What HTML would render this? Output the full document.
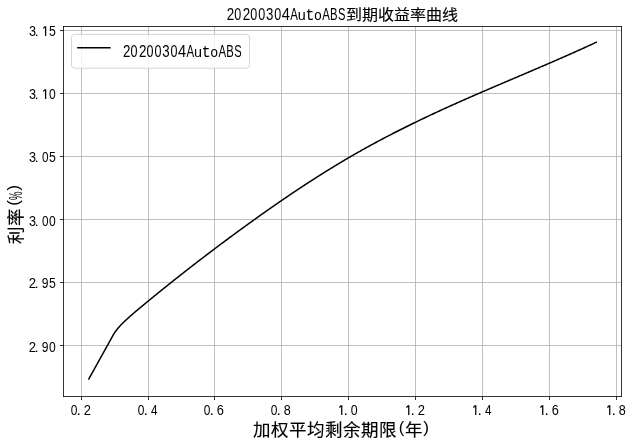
<!DOCTYPE html>
<html lang="zh-CN"><head><meta charset="utf-8"><title>20200304AutoABS到期收益率曲线</title>
<style>html,body{margin:0;padding:0;background:#fff;overflow:hidden}svg{display:block;filter:grayscale(1)}</style>
</head><body><svg width="633" height="444" viewBox="0 0 633 444"><rect x="0" y="0" width="633" height="444" fill="#fff"/><path d="M81.5 26.5V396.5M148.5 26.5V396.5M214.5 26.5V396.5M281.5 26.5V396.5M348.5 26.5V396.5M415.5 26.5V396.5M482.5 26.5V396.5M549.5 26.5V396.5M616.5 26.5V396.5M63.5 30.5H621.5M63.5 93.5H621.5M63.5 156.5H621.5M63.5 219.5H621.5M63.5 282.5H621.5M63.5 345.5H621.5" stroke="#b0b0b0" stroke-width="0.8" fill="none"/><path d="M88.85 378.90 L89.35 378.00 L89.85 377.10 L90.35 376.20 L90.85 375.30 L91.35 374.40 L91.85 373.50 L92.35 372.60 L92.85 371.70 L93.35 370.80 L93.85 369.90 L94.35 369.00 L94.85 368.10 L95.35 367.20 L95.85 366.30 L96.35 365.40 L96.85 364.50 L97.35 363.60 L97.85 362.70 L98.35 361.80 L98.85 360.90 L99.35 360.00 L99.85 359.10 L100.35 358.20 L100.85 357.30 L101.35 356.40 L101.85 355.50 L102.35 354.60 L102.85 353.70 L103.35 352.80 L103.85 351.90 L104.35 351.00 L104.85 350.10 L105.35 349.20 L105.85 348.30 L106.35 347.40 L106.85 346.50 L107.35 345.60 L107.85 344.70 L108.35 343.80 L108.85 342.90 L109.35 342.00 L109.85 341.10 L110.35 340.20 L110.85 339.30 L111.35 338.40 L111.85 337.48 L112.35 336.53 L112.85 335.58 L113.35 334.67 L113.85 333.84 L114.35 333.08 L114.85 332.36 L115.35 331.65 L115.85 330.97 L116.35 330.31 L116.85 329.66 L117.35 329.04 L117.85 328.43 L118.35 327.84 L118.85 327.26 L119.35 326.70 L119.85 326.15 L120.35 325.61 L120.85 325.08 L121.35 324.56 L121.85 324.05 L122.35 323.55 L122.85 323.05 L123.35 322.56 L123.85 322.07 L124.35 321.59 L124.85 321.11 L125.35 320.63 L125.85 320.16 L126.35 319.69 L126.85 319.23 L127.35 318.77 L127.85 318.31 L128.35 317.85 L128.85 317.40 L129.35 316.95 L129.85 316.51 L130.35 316.06 L130.85 315.62 L131.35 315.19 L131.85 314.75 L132.35 314.32 L132.85 313.88 L133.35 313.45 L133.85 313.03 L134.35 312.60 L134.85 312.17 L135.35 311.75 L135.85 311.33 L136.35 310.91 L136.85 310.49 L137.35 310.07 L137.85 309.65 L138.35 309.23 L138.85 308.82 L139.35 308.40 L139.85 307.98 L140.35 307.57 L140.85 307.15 L141.35 306.74 L141.85 306.32 L142.35 305.91 L142.85 305.49 L143.35 305.08 L143.85 304.67 L144.35 304.25 L144.85 303.84 L145.35 303.43 L145.85 303.01 L146.35 302.60 L146.85 302.19 L147.35 301.78 L147.85 301.37 L148.35 300.96 L148.85 300.54 L149.35 300.13 L149.85 299.72 L150.35 299.31 L150.85 298.90 L151.35 298.49 L151.85 298.08 L152.35 297.68 L152.85 297.27 L153.35 296.86 L153.85 296.45 L154.35 296.04 L154.85 295.64 L155.35 295.23 L155.85 294.82 L156.35 294.41 L156.85 294.01 L157.35 293.60 L157.85 293.20 L158.35 292.79 L158.85 292.38 L159.35 291.98 L159.85 291.57 L160.35 291.17 L160.85 290.77 L161.35 290.36 L161.85 289.96 L162.35 289.55 L162.85 289.15 L163.35 288.75 L163.85 288.35 L164.35 287.94 L164.85 287.54 L165.35 287.14 L165.85 286.74 L166.35 286.34 L166.85 285.94 L167.35 285.54 L167.85 285.13 L168.35 284.73 L168.85 284.33 L169.35 283.94 L169.85 283.54 L170.35 283.14 L170.85 282.74 L171.35 282.34 L171.85 281.94 L172.35 281.54 L172.85 281.14 L173.35 280.75 L173.85 280.35 L174.35 279.95 L174.85 279.56 L175.35 279.16 L175.85 278.76 L176.35 278.37 L176.85 277.97 L177.35 277.58 L177.85 277.18 L178.35 276.79 L178.85 276.39 L179.35 276.00 L179.85 275.60 L180.35 275.21 L180.85 274.82 L181.35 274.42 L181.85 274.03 L182.35 273.64 L182.85 273.24 L183.35 272.85 L183.85 272.46 L184.35 272.07 L184.85 271.68 L185.35 271.29 L185.85 270.90 L186.35 270.50 L186.85 270.11 L187.35 269.72 L187.85 269.33 L188.35 268.94 L188.85 268.55 L189.35 268.17 L189.85 267.78 L190.35 267.39 L190.85 267.00 L191.35 266.61 L191.85 266.22 L192.35 265.84 L192.85 265.45 L193.35 265.06 L193.85 264.67 L194.35 264.29 L194.85 263.90 L195.35 263.52 L195.85 263.13 L196.35 262.74 L196.85 262.36 L197.35 261.97 L197.85 261.59 L198.35 261.20 L198.85 260.82 L199.35 260.43 L199.85 260.05 L200.35 259.67 L200.85 259.28 L201.35 258.90 L201.85 258.52 L202.35 258.14 L202.85 257.75 L203.35 257.37 L203.85 256.99 L204.35 256.61 L204.85 256.23 L205.35 255.84 L205.85 255.46 L206.35 255.08 L206.85 254.70 L207.35 254.32 L207.85 253.94 L208.35 253.56 L208.85 253.18 L209.35 252.80 L209.85 252.42 L210.35 252.05 L210.85 251.67 L211.35 251.29 L211.85 250.91 L212.35 250.53 L212.85 250.16 L213.35 249.78 L213.85 249.40 L214.35 249.02 L214.85 248.65 L215.35 248.27 L215.85 247.90 L216.35 247.52 L216.85 247.14 L217.35 246.77 L217.85 246.39 L218.35 246.02 L218.85 245.64 L219.35 245.27 L219.85 244.90 L220.35 244.52 L220.85 244.15 L221.35 243.77 L221.85 243.40 L222.35 243.03 L222.85 242.65 L223.35 242.28 L223.85 241.91 L224.35 241.54 L224.85 241.17 L225.35 240.79 L225.85 240.42 L226.35 240.05 L226.85 239.68 L227.35 239.31 L227.85 238.94 L228.35 238.57 L228.85 238.20 L229.35 237.83 L229.85 237.46 L230.35 237.09 L230.85 236.72 L231.35 236.35 L231.85 235.98 L232.35 235.61 L232.85 235.25 L233.35 234.88 L233.85 234.51 L234.35 234.14 L234.85 233.78 L235.35 233.41 L235.85 233.04 L236.35 232.68 L236.85 232.31 L237.35 231.94 L237.85 231.58 L238.35 231.21 L238.85 230.85 L239.35 230.48 L239.85 230.11 L240.35 229.75 L240.85 229.39 L241.35 229.02 L241.85 228.66 L242.35 228.29 L242.85 227.93 L243.35 227.57 L243.85 227.20 L244.35 226.84 L244.85 226.48 L245.35 226.11 L245.85 225.75 L246.35 225.39 L246.85 225.03 L247.35 224.67 L247.85 224.30 L248.35 223.94 L248.85 223.58 L249.35 223.22 L249.85 222.86 L250.35 222.50 L250.85 222.14 L251.35 221.78 L251.85 221.42 L252.35 221.06 L252.85 220.70 L253.35 220.34 L253.85 219.99 L254.35 219.63 L254.85 219.27 L255.35 218.91 L255.85 218.55 L256.35 218.20 L256.85 217.84 L257.35 217.48 L257.85 217.13 L258.35 216.77 L258.85 216.41 L259.35 216.06 L259.85 215.70 L260.35 215.35 L260.85 214.99 L261.35 214.64 L261.85 214.28 L262.35 213.93 L262.85 213.58 L263.35 213.22 L263.85 212.87 L264.35 212.52 L264.85 212.16 L265.35 211.81 L265.85 211.46 L266.35 211.11 L266.85 210.76 L267.35 210.40 L267.85 210.05 L268.35 209.70 L268.85 209.35 L269.35 209.00 L269.85 208.65 L270.35 208.30 L270.85 207.95 L271.35 207.60 L271.85 207.25 L272.35 206.91 L272.85 206.56 L273.35 206.21 L273.85 205.86 L274.35 205.52 L274.85 205.17 L275.35 204.82 L275.85 204.47 L276.35 204.13 L276.85 203.78 L277.35 203.44 L277.85 203.09 L278.35 202.75 L278.85 202.40 L279.35 202.06 L279.85 201.71 L280.35 201.37 L280.85 201.03 L281.35 200.68 L281.85 200.34 L282.35 200.00 L282.85 199.66 L283.35 199.31 L283.85 198.97 L284.35 198.63 L284.85 198.29 L285.35 197.95 L285.85 197.61 L286.35 197.27 L286.85 196.93 L287.35 196.59 L287.85 196.25 L288.35 195.91 L288.85 195.57 L289.35 195.24 L289.85 194.90 L290.35 194.56 L290.85 194.22 L291.35 193.89 L291.85 193.55 L292.35 193.21 L292.85 192.88 L293.35 192.54 L293.85 192.21 L294.35 191.87 L294.85 191.54 L295.35 191.20 L295.85 190.87 L296.35 190.54 L296.85 190.20 L297.35 189.87 L297.85 189.54 L298.35 189.21 L298.85 188.87 L299.35 188.54 L299.85 188.21 L300.35 187.88 L300.85 187.55 L301.35 187.22 L301.85 186.89 L302.35 186.56 L302.85 186.23 L303.35 185.90 L303.85 185.58 L304.35 185.25 L304.85 184.92 L305.35 184.59 L305.85 184.27 L306.35 183.94 L306.85 183.61 L307.35 183.29 L307.85 182.96 L308.35 182.64 L308.85 182.31 L309.35 181.99 L309.85 181.67 L310.35 181.34 L310.85 181.02 L311.35 180.70 L311.85 180.37 L312.35 180.05 L312.85 179.73 L313.35 179.41 L313.85 179.09 L314.35 178.77 L314.85 178.45 L315.35 178.13 L315.85 177.81 L316.35 177.49 L316.85 177.17 L317.35 176.85 L317.85 176.53 L318.35 176.22 L318.85 175.90 L319.35 175.58 L319.85 175.27 L320.35 174.95 L320.85 174.64 L321.35 174.32 L321.85 174.01 L322.35 173.69 L322.85 173.38 L323.35 173.06 L323.85 172.75 L324.35 172.44 L324.85 172.13 L325.35 171.81 L325.85 171.50 L326.35 171.19 L326.85 170.88 L327.35 170.57 L327.85 170.26 L328.35 169.95 L328.85 169.64 L329.35 169.33 L329.85 169.02 L330.35 168.72 L330.85 168.41 L331.35 168.10 L331.85 167.79 L332.35 167.49 L332.85 167.18 L333.35 166.88 L333.85 166.57 L334.35 166.27 L334.85 165.96 L335.35 165.66 L335.85 165.36 L336.35 165.05 L336.85 164.75 L337.35 164.45 L337.85 164.15 L338.35 163.85 L338.85 163.54 L339.35 163.24 L339.85 162.94 L340.35 162.64 L340.85 162.35 L341.35 162.05 L341.85 161.75 L342.35 161.45 L342.85 161.15 L343.35 160.86 L343.85 160.56 L344.35 160.26 L344.85 159.97 L345.35 159.67 L345.85 159.38 L346.35 159.08 L346.85 158.79 L347.35 158.50 L347.85 158.20 L348.35 157.91 L348.85 157.62 L349.35 157.33 L349.85 157.04 L350.35 156.75 L350.85 156.46 L351.35 156.17 L351.85 155.88 L352.35 155.59 L352.85 155.30 L353.35 155.01 L353.85 154.72 L354.35 154.44 L354.85 154.15 L355.35 153.86 L355.85 153.58 L356.35 153.29 L356.85 153.01 L357.35 152.72 L357.85 152.44 L358.35 152.16 L358.85 151.87 L359.35 151.59 L359.85 151.31 L360.35 151.03 L360.85 150.74 L361.35 150.46 L361.85 150.18 L362.35 149.90 L362.85 149.62 L363.35 149.34 L363.85 149.06 L364.35 148.78 L364.85 148.51 L365.35 148.23 L365.85 147.95 L366.35 147.67 L366.85 147.40 L367.35 147.12 L367.85 146.85 L368.35 146.57 L368.85 146.30 L369.35 146.02 L369.85 145.75 L370.35 145.47 L370.85 145.20 L371.35 144.93 L371.85 144.65 L372.35 144.38 L372.85 144.11 L373.35 143.84 L373.85 143.57 L374.35 143.30 L374.85 143.03 L375.35 142.76 L375.85 142.49 L376.35 142.22 L376.85 141.95 L377.35 141.68 L377.85 141.41 L378.35 141.15 L378.85 140.88 L379.35 140.61 L379.85 140.34 L380.35 140.08 L380.85 139.81 L381.35 139.55 L381.85 139.28 L382.35 139.02 L382.85 138.75 L383.35 138.49 L383.85 138.23 L384.35 137.96 L384.85 137.70 L385.35 137.44 L385.85 137.18 L386.35 136.91 L386.85 136.65 L387.35 136.39 L387.85 136.13 L388.35 135.87 L388.85 135.61 L389.35 135.35 L389.85 135.09 L390.35 134.83 L390.85 134.58 L391.35 134.32 L391.85 134.06 L392.35 133.80 L392.85 133.54 L393.35 133.29 L393.85 133.03 L394.35 132.78 L394.85 132.52 L395.35 132.26 L395.85 132.01 L396.35 131.75 L396.85 131.50 L397.35 131.25 L397.85 130.99 L398.35 130.74 L398.85 130.49 L399.35 130.23 L399.85 129.98 L400.35 129.73 L400.85 129.48 L401.35 129.23 L401.85 128.97 L402.35 128.72 L402.85 128.47 L403.35 128.22 L403.85 127.97 L404.35 127.72 L404.85 127.47 L405.35 127.23 L405.85 126.98 L406.35 126.73 L406.85 126.48 L407.35 126.23 L407.85 125.99 L408.35 125.74 L408.85 125.49 L409.35 125.25 L409.85 125.00 L410.35 124.75 L410.85 124.51 L411.35 124.26 L411.85 124.02 L412.35 123.77 L412.85 123.53 L413.35 123.28 L413.85 123.04 L414.35 122.80 L414.85 122.55 L415.35 122.31 L415.85 122.07 L416.35 121.83 L416.85 121.58 L417.35 121.34 L417.85 121.10 L418.35 120.86 L418.85 120.62 L419.35 120.38 L419.85 120.14 L420.35 119.90 L420.85 119.66 L421.35 119.42 L421.85 119.18 L422.35 118.94 L422.85 118.70 L423.35 118.46 L423.85 118.23 L424.35 117.99 L424.85 117.75 L425.35 117.51 L425.85 117.28 L426.35 117.04 L426.85 116.80 L427.35 116.57 L427.85 116.33 L428.35 116.09 L428.85 115.86 L429.35 115.62 L429.85 115.39 L430.35 115.15 L430.85 114.92 L431.35 114.69 L431.85 114.45 L432.35 114.22 L432.85 113.98 L433.35 113.75 L433.85 113.52 L434.35 113.29 L434.85 113.05 L435.35 112.82 L435.85 112.59 L436.35 112.36 L436.85 112.13 L437.35 111.89 L437.85 111.66 L438.35 111.43 L438.85 111.20 L439.35 110.97 L439.85 110.74 L440.35 110.51 L440.85 110.28 L441.35 110.05 L441.85 109.82 L442.35 109.59 L442.85 109.37 L443.35 109.14 L443.85 108.91 L444.35 108.68 L444.85 108.45 L445.35 108.22 L445.85 108.00 L446.35 107.77 L446.85 107.54 L447.35 107.32 L447.85 107.09 L448.35 106.86 L448.85 106.64 L449.35 106.41 L449.85 106.18 L450.35 105.96 L450.85 105.73 L451.35 105.51 L451.85 105.28 L452.35 105.06 L452.85 104.83 L453.35 104.61 L453.85 104.39 L454.35 104.16 L454.85 103.94 L455.35 103.71 L455.85 103.49 L456.35 103.27 L456.85 103.04 L457.35 102.82 L457.85 102.60 L458.35 102.38 L458.85 102.15 L459.35 101.93 L459.85 101.71 L460.35 101.49 L460.85 101.26 L461.35 101.04 L461.85 100.82 L462.35 100.60 L462.85 100.38 L463.35 100.16 L463.85 99.94 L464.35 99.72 L464.85 99.50 L465.35 99.28 L465.85 99.06 L466.35 98.84 L466.85 98.62 L467.35 98.40 L467.85 98.18 L468.35 97.96 L468.85 97.74 L469.35 97.52 L469.85 97.30 L470.35 97.08 L470.85 96.86 L471.35 96.64 L471.85 96.43 L472.35 96.21 L472.85 95.99 L473.35 95.77 L473.85 95.55 L474.35 95.33 L474.85 95.12 L475.35 94.90 L475.85 94.68 L476.35 94.46 L476.85 94.25 L477.35 94.03 L477.85 93.81 L478.35 93.60 L478.85 93.38 L479.35 93.16 L479.85 92.95 L480.35 92.73 L480.85 92.51 L481.35 92.30 L481.85 92.08 L482.35 91.87 L482.85 91.65 L483.35 91.43 L483.85 91.22 L484.35 91.00 L484.85 90.79 L485.35 90.57 L485.85 90.36 L486.35 90.14 L486.85 89.93 L487.35 89.71 L487.85 89.50 L488.35 89.28 L488.85 89.07 L489.35 88.85 L489.85 88.64 L490.35 88.42 L490.85 88.21 L491.35 87.99 L491.85 87.78 L492.35 87.56 L492.85 87.35 L493.35 87.14 L493.85 86.92 L494.35 86.71 L494.85 86.49 L495.35 86.28 L495.85 86.07 L496.35 85.85 L496.85 85.64 L497.35 85.42 L497.85 85.21 L498.35 85.00 L498.85 84.78 L499.35 84.57 L499.85 84.36 L500.35 84.14 L500.85 83.93 L501.35 83.72 L501.85 83.50 L502.35 83.29 L502.85 83.08 L503.35 82.86 L503.85 82.65 L504.35 82.44 L504.85 82.23 L505.35 82.01 L505.85 81.80 L506.35 81.59 L506.85 81.37 L507.35 81.16 L507.85 80.95 L508.35 80.74 L508.85 80.52 L509.35 80.31 L509.85 80.10 L510.35 79.88 L510.85 79.67 L511.35 79.46 L511.85 79.25 L512.35 79.03 L512.85 78.82 L513.35 78.61 L513.85 78.40 L514.35 78.18 L514.85 77.97 L515.35 77.76 L515.85 77.55 L516.35 77.33 L516.85 77.12 L517.35 76.91 L517.85 76.69 L518.35 76.48 L518.85 76.27 L519.35 76.06 L519.85 75.84 L520.35 75.63 L520.85 75.42 L521.35 75.21 L521.85 74.99 L522.35 74.78 L522.85 74.57 L523.35 74.35 L523.85 74.14 L524.35 73.93 L524.85 73.72 L525.35 73.50 L525.85 73.29 L526.35 73.08 L526.85 72.86 L527.35 72.65 L527.85 72.44 L528.35 72.22 L528.85 72.01 L529.35 71.80 L529.85 71.58 L530.35 71.37 L530.85 71.16 L531.35 70.94 L531.85 70.73 L532.35 70.52 L532.85 70.30 L533.35 70.09 L533.85 69.88 L534.35 69.66 L534.85 69.45 L535.35 69.24 L535.85 69.02 L536.35 68.81 L536.85 68.59 L537.35 68.38 L537.85 68.17 L538.35 67.95 L538.85 67.74 L539.35 67.52 L539.85 67.31 L540.35 67.09 L540.85 66.88 L541.35 66.66 L541.85 66.45 L542.35 66.23 L542.85 66.02 L543.35 65.80 L543.85 65.59 L544.35 65.37 L544.85 65.16 L545.35 64.94 L545.85 64.73 L546.35 64.51 L546.85 64.30 L547.35 64.08 L547.85 63.87 L548.35 63.65 L548.85 63.43 L549.35 63.22 L549.85 63.00 L550.35 62.78 L550.85 62.57 L551.35 62.35 L551.85 62.13 L552.35 61.92 L552.85 61.70 L553.35 61.48 L553.85 61.27 L554.35 61.05 L554.85 60.83 L555.35 60.61 L555.85 60.40 L556.35 60.18 L556.85 59.96 L557.35 59.74 L557.85 59.53 L558.35 59.31 L558.85 59.09 L559.35 58.87 L559.85 58.65 L560.35 58.43 L560.85 58.21 L561.35 57.99 L561.85 57.78 L562.35 57.56 L562.85 57.34 L563.35 57.12 L563.85 56.90 L564.35 56.68 L564.85 56.46 L565.35 56.24 L565.85 56.02 L566.35 55.80 L566.85 55.58 L567.35 55.35 L567.85 55.13 L568.35 54.91 L568.85 54.69 L569.35 54.47 L569.85 54.25 L570.35 54.03 L570.85 53.80 L571.35 53.58 L571.85 53.36 L572.35 53.14 L572.85 52.91 L573.35 52.69 L573.85 52.47 L574.35 52.25 L574.85 52.02 L575.35 51.80 L575.85 51.57 L576.35 51.35 L576.85 51.13 L577.35 50.90 L577.85 50.68 L578.35 50.45 L578.85 50.23 L579.35 50.00 L579.85 49.78 L580.35 49.55 L580.85 49.33 L581.35 49.10 L581.85 48.87 L582.35 48.65 L582.85 48.42 L583.35 48.20 L583.85 47.97 L584.35 47.74 L584.85 47.51 L585.35 47.29 L585.85 47.06 L586.35 46.83 L586.85 46.60 L587.35 46.37 L587.85 46.15 L588.35 45.92 L588.85 45.69 L589.35 45.46 L589.85 45.23 L590.35 45.00 L590.85 44.77 L591.35 44.54 L591.85 44.31 L592.35 44.08 L592.85 43.85 L593.35 43.62 L593.85 43.38 L594.35 43.15 L594.85 42.92 L595.35 42.69 L595.85 42.46 L596.20 42.29" stroke="#000" stroke-width="1.5" fill="none" stroke-linejoin="round" stroke-linecap="square"/><path d="M63.5 26.5V396.5M621.5 26.5V396.5M63.5 26.5H621.5M63.5 396.5H621.5" stroke="#000" stroke-width="0.8" fill="none" stroke-linecap="square"/><path d="M60.0 30.5H63.5M60.0 93.5H63.5M60.0 156.5H63.5M60.0 219.5H63.5M60.0 282.5H63.5M60.0 345.5H63.5M81.5 396.5V400.0M148.5 396.5V400.0M214.5 396.5V400.0M281.5 396.5V400.0M348.5 396.5V400.0M415.5 396.5V400.0M482.5 396.5V400.0M549.5 396.5V400.0M616.5 396.5V400.0" stroke="#000" stroke-width="0.8" fill="none"/><rect x="71.5" y="34.4" width="178" height="33.8" rx="3.2" ry="3.2" fill="#fff" fill-opacity="0.8" stroke="#ccc" stroke-opacity="0.8" stroke-width="1"/><path d="M77.9 47.8H109.9" stroke="#000" stroke-width="1.5" stroke-linecap="square"/><g font-family="Liberation Sans" font-size="20" fill="#000"><text transform="translate(28.918 35.907) scale(0.6327 0.7345)">3</text><text transform="translate(34.753 35.900) scale(0.6827 0.6546)">.</text><text transform="translate(48.910 35.904) scale(0.6117 0.7452)">5</text><text transform="translate(28.918 98.907) scale(0.6327 0.7345)">3</text><text transform="translate(34.753 98.900) scale(0.6827 0.6546)">.</text><text transform="translate(48.926 98.907) scale(0.6067 0.7345)">0</text><text transform="translate(28.918 161.907) scale(0.6327 0.7345)">3</text><text transform="translate(34.753 161.900) scale(0.6827 0.6546)">.</text><text transform="translate(41.942 161.907) scale(0.5857 0.7345)">0</text><text transform="translate(48.910 161.904) scale(0.6117 0.7452)">5</text><text transform="translate(28.918 226.007) scale(0.6327 0.7345)">3</text><text transform="translate(34.753 226.000) scale(0.6827 0.6546)">.</text><text transform="translate(41.942 226.007) scale(0.5857 0.7345)">0</text><text transform="translate(48.926 226.007) scale(0.6067 0.7345)">0</text><text transform="translate(28.738 287.900) scale(0.6585 0.7232)">2</text><text transform="translate(34.753 287.900) scale(0.6827 0.6546)">.</text><text transform="translate(41.832 287.907) scale(0.6062 0.7345)">9</text><text transform="translate(48.910 287.904) scale(0.6117 0.7452)">5</text><text transform="translate(28.738 352.000) scale(0.6585 0.7232)">2</text><text transform="translate(34.753 352.000) scale(0.6827 0.6546)">.</text><text transform="translate(41.832 352.007) scale(0.6062 0.7345)">9</text><text transform="translate(48.926 352.007) scale(0.6067 0.7345)">0</text><text transform="translate(70.684 414.907) scale(0.5962 0.7345)">0</text><text transform="translate(76.462 414.900) scale(0.7877 0.7014)">.</text><text transform="translate(83.699 414.900) scale(0.6475 0.7232)">2</text><text transform="translate(137.684 414.907) scale(0.5962 0.7345)">0</text><text transform="translate(143.462 414.900) scale(0.7877 0.7014)">.</text><text transform="translate(151.081 414.900) scale(0.5854 0.7340)">4</text><text transform="translate(203.684 414.907) scale(0.5962 0.7345)">0</text><text transform="translate(209.462 414.900) scale(0.7877 0.7014)">.</text><text transform="translate(216.701 414.907) scale(0.6393 0.7345)">6</text><text transform="translate(270.684 414.907) scale(0.5962 0.7345)">0</text><text transform="translate(276.462 414.900) scale(0.7877 0.7014)">.</text><text transform="translate(283.804 414.907) scale(0.6287 0.7345)">8</text><text transform="translate(343.462 414.900) scale(0.7877 0.7014)">.</text><text transform="translate(350.868 414.907) scale(0.6171 0.7345)">0</text><text transform="translate(410.462 414.900) scale(0.7877 0.7014)">.</text><text transform="translate(417.699 414.900) scale(0.6475 0.7232)">2</text><text transform="translate(477.462 414.900) scale(0.7877 0.7014)">.</text><text transform="translate(485.081 414.900) scale(0.5854 0.7340)">4</text><text transform="translate(544.462 414.900) scale(0.7877 0.7014)">.</text><text transform="translate(551.701 414.907) scale(0.6393 0.7345)">6</text><text transform="translate(611.462 414.900) scale(0.7877 0.7014)">.</text><text transform="translate(618.804 414.907) scale(0.6287 0.7345)">8</text><text transform="translate(226.727 19.900) scale(0.6695 0.8307)">2</text><text transform="translate(234.310 19.887) scale(0.6276 0.8369)">0</text><text transform="translate(242.727 19.900) scale(0.6695 0.8307)">2</text><text transform="translate(250.310 19.887) scale(0.6276 0.8369)">0</text><text transform="translate(258.310 19.887) scale(0.6276 0.8369)">0</text><text transform="translate(265.994 19.887) scale(0.6644 0.8369)">3</text><text transform="translate(274.310 19.887) scale(0.6276 0.8369)">0</text><text transform="translate(281.763 19.900) scale(0.7343 0.8430)">4</text><text transform="translate(290.178 19.900) scale(0.5731 0.8212)">A</text><text transform="translate(297.767 19.950) scale(0.7180 0.7666)">u</text><text font-family="Liberation Mono" transform="translate(305.522 19.925) scale(0.7429 0.7977)">t</text><text transform="translate(314.340 19.953) scale(0.6671 0.7529)">o</text><text transform="translate(322.178 19.900) scale(0.5731 0.8212)">A</text><text transform="translate(330.075 19.900) scale(0.5637 0.8430)">B</text><text transform="translate(337.995 19.887) scale(0.5559 0.8369)">S</text><text transform="translate(122.927 56.900) scale(0.6695 0.8450)">2</text><text transform="translate(130.510 56.884) scale(0.6276 0.8510)">0</text><text transform="translate(138.927 56.900) scale(0.6695 0.8450)">2</text><text transform="translate(146.510 56.884) scale(0.6276 0.8510)">0</text><text transform="translate(154.510 56.884) scale(0.6276 0.8510)">0</text><text transform="translate(162.194 56.884) scale(0.6644 0.8510)">3</text><text transform="translate(170.510 56.884) scale(0.6276 0.8510)">0</text><text transform="translate(177.963 56.900) scale(0.7343 0.8576)">4</text><text transform="translate(186.378 56.900) scale(0.5731 0.8358)">A</text><text transform="translate(193.967 56.950) scale(0.7180 0.7666)">u</text><text font-family="Liberation Mono" transform="translate(201.722 56.925) scale(0.7429 0.7977)">t</text><text transform="translate(210.540 56.953) scale(0.6671 0.7529)">o</text><text transform="translate(218.378 56.900) scale(0.5731 0.8358)">A</text><text transform="translate(226.275 56.900) scale(0.5637 0.8576)">B</text><text transform="translate(234.195 56.884) scale(0.5559 0.8510)">S</text><text transform="translate(398.771 433.444) scale(0.8298 0.8587)">(</text><text transform="translate(423.198 433.444) scale(0.8675 0.8587)">)</text></g><path d="M45.60 26.15V35.90M45.45 26.40L43.20 28.35M45.60 89.15V98.90M45.45 89.40L43.20 91.35M341.75 405.25V414.90M341.60 405.50L339.35 407.45M408.75 405.25V414.90M408.60 405.50L406.35 407.45M475.75 405.25V414.90M475.60 405.50L473.35 407.45M542.75 405.25V414.90M542.60 405.50L540.35 407.45M609.75 405.25V414.90M609.60 405.50L607.35 407.45" stroke="#000" stroke-width="1.25" fill="none"/><g transform="rotate(-90)" font-family="Liberation Sans" font-size="20" fill="#000"><text transform="translate(-190.597 19.382) scale(0.8298 0.8496)">)</text><text transform="translate(-199.940 21.793) scale(0.4768 0.9147)">%</text><text transform="translate(-205.729 19.382) scale(0.8298 0.8496)">(</text></g><text transform="translate(0 19.98) scale(1 0.93)" x="345.70 361.70 377.70 393.70 409.70 425.70 441.70" y="0" font-size="16" font-family="Liberation Sans" lang="zh-CN" fill="#000" stroke="#000" stroke-width="0.15">到期收益率曲线</text><text x="253.00 271.00 289.00 307.00 325.00 343.00 361.00 379.00" y="436.1" font-size="17.5" font-family="Liberation Sans" lang="zh-CN" fill="#000" stroke="#000" stroke-width="0.15">加权平均剩余期限</text><text x="405.2" y="436.1" font-size="17.5" font-family="Liberation Sans" lang="zh-CN" fill="#000" stroke="#000" stroke-width="0.15">年</text><text transform="translate(22.04 244.4) rotate(-90)" x="0 18" font-size="17.5" font-family="Liberation Sans" lang="zh-CN" fill="#000" stroke="#000" stroke-width="0.15">利率</text></svg></body></html>
